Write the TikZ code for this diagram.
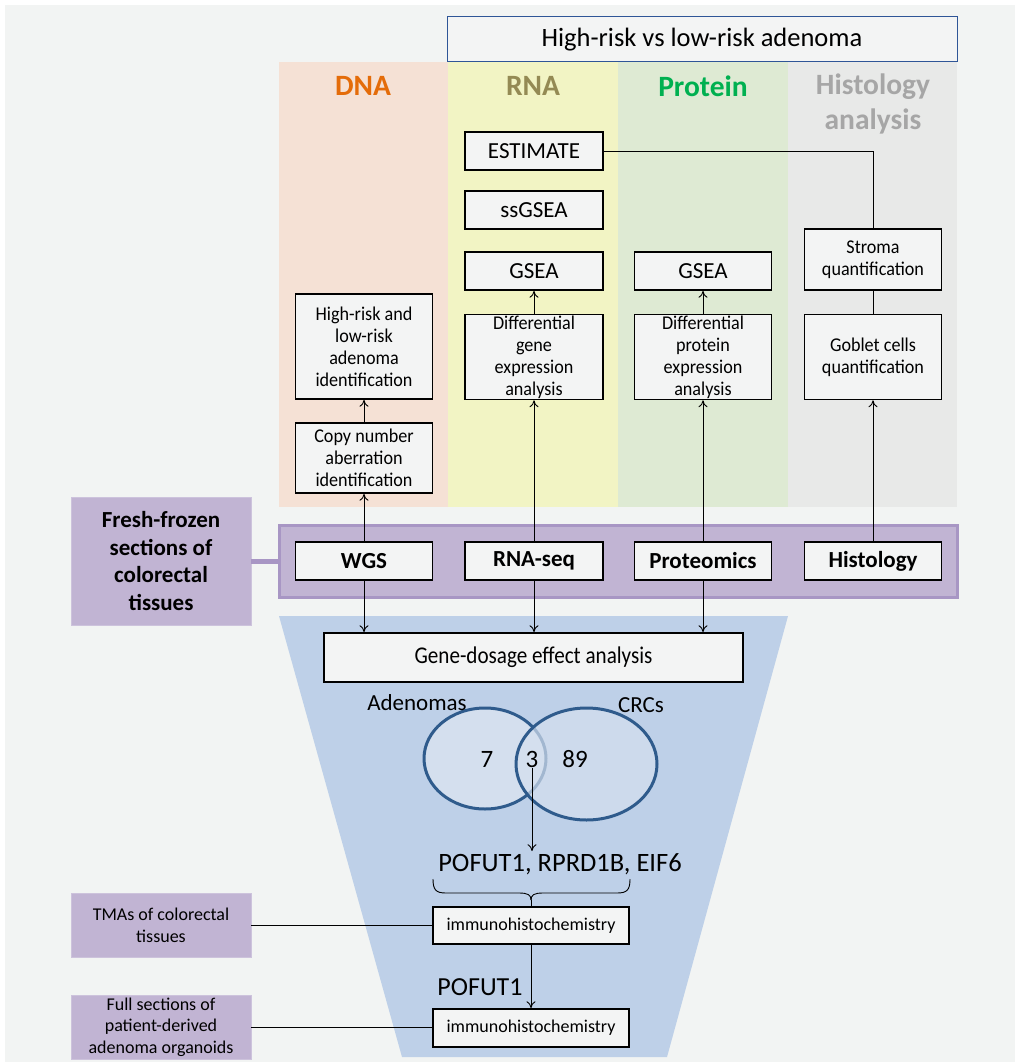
\documentclass[tikz,border=0pt]{standalone}
\usepackage{fontspec}
\setmainfont{Carlito}
\newfontfamily\condfont{Carlito}[FakeStretch=0.88]
\newfontfamily\semicond{Carlito}[FakeStretch=0.93]
\usetikzlibrary{arrows.meta}
\definecolor{bgc}{HTML}{F2F4F3}
\definecolor{peach}{HTML}{F5E1D5}
\definecolor{yel}{HTML}{F2F4C4}
\definecolor{grn}{HTML}{DEEAD3}
\definecolor{gry}{HTML}{E8E9E8}
\definecolor{boxf}{HTML}{F3F4F4}
\definecolor{purp}{HTML}{C1B4D3}
\definecolor{purpd}{HTML}{A896C4}
\definecolor{funn}{HTML}{BED0E8}
\definecolor{vennf}{HTML}{D4DFEE}
\definecolor{vennl}{HTML}{2F5B8C}
\definecolor{titleb}{HTML}{2F5597}
\definecolor{dnac}{HTML}{E46C0A}
\definecolor{rnac}{HTML}{948A54}
\definecolor{protc}{HTML}{00B050}
\definecolor{histc}{HTML}{A6A6A6}
\tikzset{
  bx/.style={draw=black, line width=1.6pt, fill=boxf, align=center, inner sep=0pt},
  onew/.style={bx, font=\fontsize{23}{27}\selectfont},
  multi/.style={bx, font=\semicond\fontsize{19.5}{22}\selectfont},
  bold/.style={bx, font=\fontsize{23}{27}\selectfont\bfseries},
  head/.style={font=\fontsize{29.5}{35}\selectfont\bfseries, align=center},
  side/.style={fill=purp, draw=purp!80!white, line width=0.6pt, align=center, inner sep=0pt},
  arr/.style={-{To[length=7pt,width=9pt]}, line width=0.9pt},
  ln/.style={line width=0.9pt},
}
\begin{document}
\begin{tikzpicture}[x=1pt,y=-1pt]
\useasboundingbox (0,0) rectangle (1018,1064);
\fill[white] (0,0) rectangle (1018,1064);
\fill[bgc] (5,5) rectangle (1015,1062);
% columns
\fill[peach] (279,62) rectangle (448,507);
\fill[yel] (448,62) rectangle (618,507);
\fill[grn] (618,62) rectangle (788,507);
\fill[gry] (788,62) rectangle (957,507);
% title
\node[draw=titleb, line width=1pt, fill=boxf, minimum width=510pt, minimum height=45pt, inner sep=0pt,
  font=\fontsize{26.5}{31}\selectfont] (title) at (702,39.5) {High-risk vs low-risk adenoma};
% headings
\node[head, text=dnac] (hdna) at (363,86) {DNA};
\node[head, text=rnac] (hrna) at (533,86) {RNA};
\node[head, text=protc] (hprot) at (703,86) {Protein};
\node[head, text=histc] (hhist) at (873,104) {Histology\\analysis};
% funnel
\fill[funn] (279,616) -- (788,616) -- (667,1057) -- (402,1057) -- cycle;
% purple band
\draw[fill=purp, draw=purpd, line width=3pt] (279,525) rectangle (957,597);
\node[side, minimum width=180pt, minimum height=128pt, font=\fontsize{23}{27.5}\selectfont\bfseries] (fresh) at (161,561) {Fresh-frozen\\sections of\\colorectal\\tissues};
\draw[purpd, line width=5pt] (fresh.east) -- (279,561);
% boxes
\node[onew, minimum width=138pt, minimum height=38pt] (est) at (534,151) {ESTIMATE};
\node[onew, minimum width=138pt, minimum height=38pt] (ss) at (534,210) {ssGSEA};
\node[onew, minimum width=138pt, minimum height=38pt] (gsea1) at (534,271) {GSEA};
\node[onew, minimum width=137pt, minimum height=38pt] (gsea2) at (703,271) {GSEA};
\node[multi, minimum width=137pt, minimum height=61pt] (stroma) at (873,259.5) {Stroma\\quantification};
\node[multi, minimum width=138pt, minimum height=85pt] (dge) at (534,357) {Differential\\gene\\expression\\analysis};
\node[multi, minimum width=137pt, minimum height=85pt] (dpe) at (703,357) {Differential\\protein\\expression\\analysis};
\node[multi, minimum width=137pt, minimum height=85pt] (gob) at (873,357) {Goblet cells\\quantification};
\node[multi, minimum width=137pt, minimum height=105pt] (hr) at (364,346.5) {High-risk and\\low-risk\\adenoma\\identification};
\node[multi, minimum width=137pt, minimum height=70pt] (cna) at (364,458) {Copy number\\aberration\\identification};
\node[bold, minimum width=137pt, minimum height=38pt] (wgs) at (364,561) {WGS};
\node[bold, minimum width=138pt, minimum height=38pt] (rnaseq) at (534,561) {RNA-seq};
\node[bold, minimum width=137pt, minimum height=38pt] (prot) at (703,561) {Proteomics};
\node[bold, minimum width=137pt, minimum height=38pt] (hist) at (873,561) {Histology};
% upper connectors
\draw[ln] (est.east) -| (stroma.north);
\draw[ln] (gob.north) -- (stroma.south);
\draw[arr] (dge.north) -- (gsea1.south);
\draw[arr] (dpe.north) -- (gsea2.south);
\draw[arr] (cna.north) -- (hr.south);
\draw[arr] (wgs.north) -- (cna.south);
\draw[arr] (rnaseq.north) -- (dge.south);
\draw[arr] (prot.north) -- (dpe.south);
\draw[arr] (hist.north) -- (gob.south);
% gene dosage
\node[bx, minimum width=419pt, minimum height=49pt, font=\condfont\fontsize{24}{28}\selectfont] (gd) at (533.5,657.5) {Gene-dosage effect analysis};
\draw[arr] (wgs.south) -- (wgs.south |- gd.north);
\draw[arr] (rnaseq.south) -- (rnaseq.south |- gd.north);
\draw[arr] (prot.south) -- (prot.south |- gd.north);
% venn
\draw[fill=vennf, draw=vennl, line width=3pt] (485,758.5) ellipse [x radius=61, y radius=50.5];
\draw[fill=vennf, fill opacity=0.7, draw=vennl, line width=3pt] (586.5,764) ellipse [x radius=70.5, y radius=56];
\node[font=\fontsize{23}{27}\selectfont] (aden) at (417,703) {Adenomas};
\node[font=\fontsize{23}{27}\selectfont] (crc) at (641,705) {CRCs};
\node[font=\fontsize{25}{30}\selectfont] (n7) at (487,759) {7};
\node[font=\fontsize{25}{30}\selectfont, inner sep=1pt] (n3) at (532,759) {3};
\node[font=\fontsize{25}{30}\selectfont] (n89) at (575,759) {89};
\node[font=\fontsize{26.5}{31}\selectfont, inner sep=2pt] (genes) at (560,864) {POFUT1, RPRD1B, EIF6};
\draw[arr] (n3.south) -- (n3.south |- genes.north);
% brace
\coordinate (bt) at (531,900);
\draw[ln] (433,879) .. controls (433,890) and (436,893) .. (446,893) -- (519,893) .. controls (528,893) and (531,895) .. (bt);
\draw[ln] (630,879) .. controls (630,890) and (627,893) .. (617,893) -- (543,893) .. controls (534,893) and (531,895) .. (bt);
% immuno
\node[bx, minimum width=196pt, minimum height=37pt, font=\fontsize{18}{22}\selectfont] (imm1) at (531,925.5) {immunohistochemistry};
\node[bx, minimum width=196pt, minimum height=38pt, font=\fontsize{18}{22}\selectfont] (imm2) at (531,1028) {immunohistochemistry};
\draw[ln] (bt) -- (imm1.north);
\draw[arr] (imm1.south) -- (imm2.north);
\node[font=\fontsize{26}{31}\selectfont] (pof) at (480,987) {POFUT1};
% side boxes
\node[side, minimum width=180pt, minimum height=64pt, font=\fontsize{18}{21.7}\selectfont] (tma) at (161,925) {TMAs of colorectal\\tissues};
\node[side, minimum width=180pt, minimum height=64pt, font=\fontsize{18}{21.7}\selectfont] (full) at (161,1027) {Full sections of\\patient-derived\\adenoma organoids};
\draw[ln] (tma.east) -- (imm1.west |- tma.east);
\draw[ln] (full.east) -- (imm2.west |- full.east);
\end{tikzpicture}
\end{document}
